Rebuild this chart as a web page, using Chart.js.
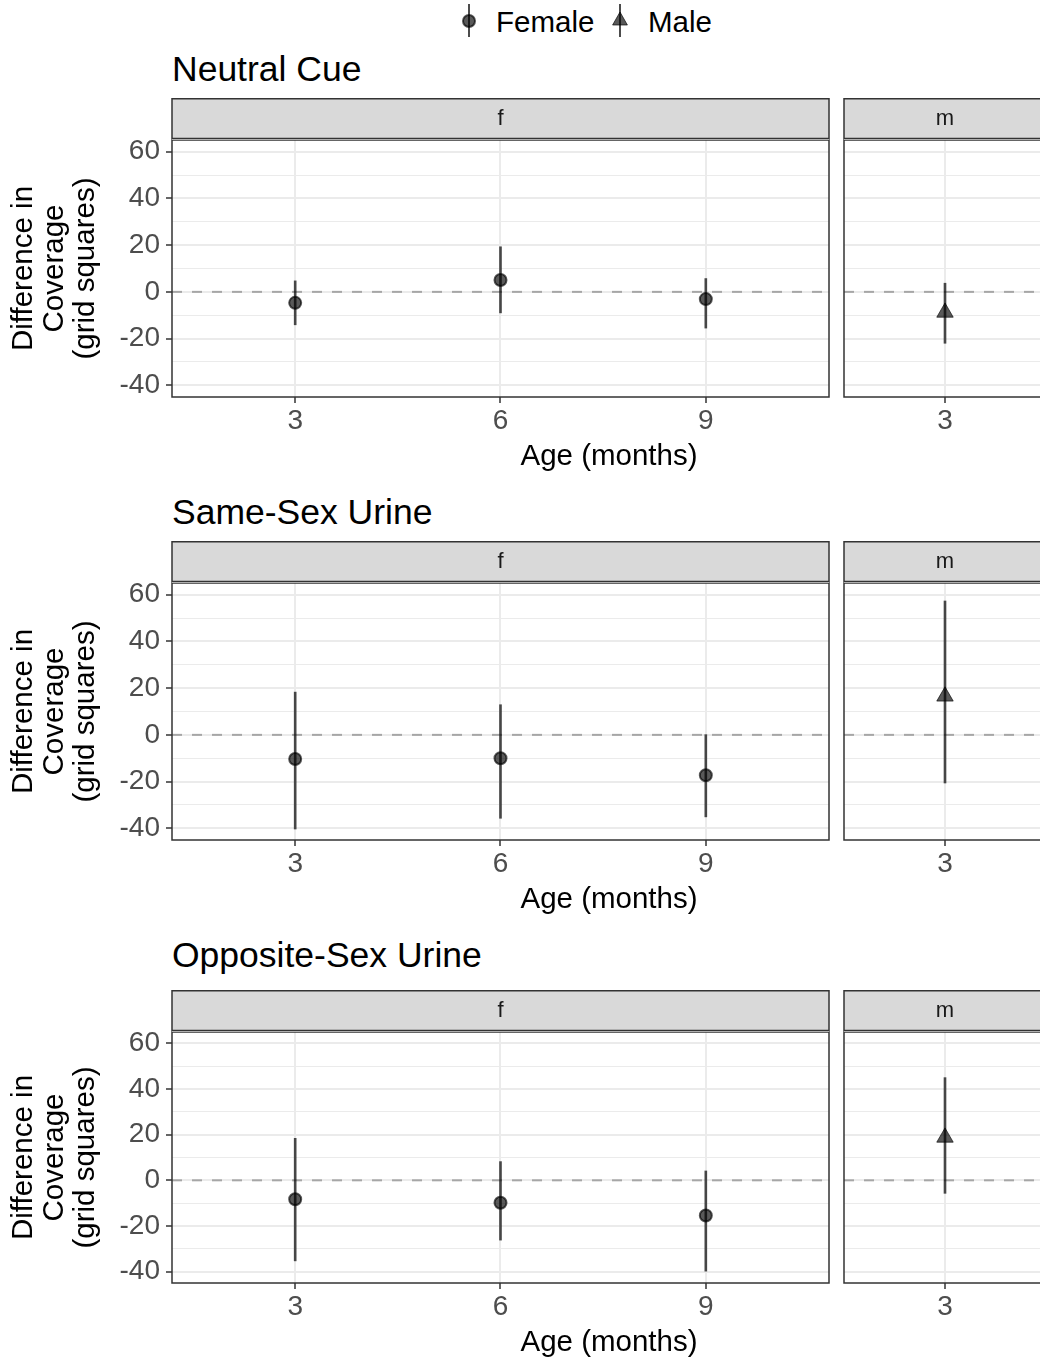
<!DOCTYPE html>
<html>
<head>
<meta charset="utf-8">
<script src="https://cdn.jsdelivr.net/npm/chart.js@4.4.1/dist/chart.umd.min.js"></script>
<style>
html, body { margin: 0; padding: 0; background: #fff; overflow: hidden; }
#fig { position: relative; width: 1040px; height: 1362px; overflow: hidden; font-family: "Liberation Sans", Arial, sans-serif; }
#fig canvas { position: absolute; }
.lbl { position: absolute; white-space: nowrap; line-height: 1; }
</style>
</head>
<body>
<div id="fig"></div>
<script>
Chart.defaults.font.family = '"Liberation Sans", Arial, sans-serif';
Chart.defaults.color = '#4d4d4d';

// cue panels, top to bottom
const cues = ['Neutral Cue', 'Same-Sex Urine', 'Opposite-Sex Urine'];

// females: ages 3, 6, 9 months
const ages = [3, 6, 9];
const femaleMean  = [[-4.7, 5.1, -3.1], [-10.3, -10.0, -17.3], [-8.3, -9.8, -15.4]];
const femaleLower = [[-14.1, -9.0, -15.5], [-40.3, -35.7, -35.1], [-35.3, -26.2, -39.8]];
const femaleUpper = [[4.7, 19.3, 5.7], [18.3, 12.9, 0.1], [18.4, 8.2, 4.1]];

// males: age 3 only
const maleAges = [3];
const maleMean  = [[-8.8], [16.5], [18.8]];
const maleLower = [[-22.0], [-20.6], [-5.7]];
const maleUpper = [[3.7], [57.3], [45.0]];

const yMajor = [-40, -20, 0, 20, 40, 60];
const yMinor = [-30, -10, 10, 30, 50];
const yLimits = [-45, 65];
const refValue = 0;
const yTitle = ['Difference in', 'Coverage', '(grid squares)'];

// page layout (px)
const plotTops = [140, 583, 1032];
const plotHeights = [257, 257, 251];
const titleBaselines = [81.7, 524.8, 968.5];
const stripH = 42, axisH = 45, yAxisW = 172;
const fRight = 829, mLeft = 844, mRight = 1046;
const tickSize = 28, axisTitleSize = 29.5;

const fig = document.getElementById('fig');

function addText(txt, x, baseline, size, center) {
    const d = document.createElement('div');
    d.className = 'lbl';
    d.textContent = txt;
    d.style.fontSize = size + 'px';
    d.style.top = (baseline - 0.8465 * size) + 'px';
    d.style.left = x + 'px';
    d.style.color = '#000';
    if (center) d.style.transform = 'translateX(-50%)';
    fig.appendChild(d);
}

// legend key: pointrange glyph
function legendKey(cx, shape) {
    const ns = 'http://www.w3.org/2000/svg';
    const svg = document.createElementNS(ns, 'svg');
    svg.setAttribute('width', 30);
    svg.setAttribute('height', 40);
    svg.style.position = 'absolute';
    svg.style.left = (cx - 15) + 'px';
    svg.style.top = '1px';
    const line = document.createElementNS(ns, 'line');
    line.setAttribute('x1', 15); line.setAttribute('x2', 15);
    line.setAttribute('y1', 3); line.setAttribute('y2', 36);
    line.setAttribute('stroke', 'rgba(0,0,0,0.7)');
    line.setAttribute('stroke-width', 2);
    svg.appendChild(line);
    let mark;
    if (shape === 'circle') {
        mark = document.createElementNS(ns, 'circle');
        mark.setAttribute('cx', 15); mark.setAttribute('cy', 20); mark.setAttribute('r', 6);
        mark.setAttribute('stroke-width', 2);
    } else {
        mark = document.createElementNS(ns, 'polygon');
        mark.setAttribute('points', '15,11 22.4,24 7.6,24');
        mark.setAttribute('stroke-width', 1);
    }
    mark.setAttribute('fill', 'rgba(0,0,0,0.65)');
    mark.setAttribute('stroke', 'rgba(0,0,0,0.65)');
    svg.appendChild(mark);
    fig.appendChild(svg);
}

legendKey(469, 'circle');
addText('Female', 496, 31.7, axisTitleSize);
legendKey(620, 'triangle');
addText('Male', 648, 31.7, axisTitleSize);

// panel border, facet strip and dashed reference line
const facetFrame = {
    id: 'facetFrame',
    beforeDatasetsDraw(chart) {
        const { ctx, chartArea: a, scales: { y } } = chart;
        const py = y.getPixelForValue(refValue);
        ctx.save();
        ctx.beginPath();
        ctx.rect(a.left, a.top, a.width, a.height);
        ctx.clip();
        ctx.strokeStyle = '#a6a6a6';
        ctx.lineWidth = 2;
        ctx.setLineDash([10, 10]);
        ctx.beginPath();
        ctx.moveTo(a.left, py);
        ctx.lineTo(a.right, py);
        ctx.stroke();
        ctx.restore();
    },
    afterDraw(chart, args, opts) {
        const { ctx, chartArea: a } = chart;
        ctx.save();
        ctx.strokeStyle = '#333333';
        ctx.lineWidth = 1.5;
        ctx.strokeRect(a.left, a.top, a.width, a.height);
        ctx.fillStyle = '#d9d9d9';
        ctx.fillRect(a.left, a.top - stripH, a.width, stripH);
        ctx.strokeRect(a.left, a.top - stripH + 0.75, a.width, stripH - 2.25);
        ctx.fillStyle = '#1a1a1a';
        ctx.font = '22px "Liberation Sans", Arial, sans-serif';
        ctx.textAlign = 'center';
        ctx.textBaseline = 'middle';
        ctx.fillText(opts.label, (a.left + a.right) / 2, a.top - stripH / 2);
        ctx.restore();
    }
};

const isMajor = c => !!c.tick && yMajor.includes(c.tick.value);

function buildPanel(row, facet) {
    const isF = facet === 'f';
    const plotTop = plotTops[row], plotH = plotHeights[row];
    const left = isF ? 0 : mLeft - 2;
    const width = isF ? fRight + 11 : (mRight - mLeft) + 4;
    const height = stripH + plotH + axisH;

    const canvas = document.createElement('canvas');
    canvas.width = width;
    canvas.height = height;
    canvas.style.left = left + 'px';
    canvas.style.top = (plotTop - stripH) + 'px';
    canvas.style.width = width + 'px';
    canvas.style.height = height + 'px';
    fig.appendChild(canvas);

    const xs = isF ? ages : maleAges;
    const mean = isF ? femaleMean[row] : maleMean[row];
    const lo = isF ? femaleLower[row] : maleLower[row];
    const hi = isF ? femaleUpper[row] : maleUpper[row];
    const xRange = isF ? [1.2, 10.8] : [1.5, 4.5];

    new Chart(canvas, {
        type: 'scatter',
        data: {
            datasets: [
                {
                    type: 'bar',
                    data: xs.map((x, i) => ({ x: x, y: [lo[i], hi[i]] })),
                    backgroundColor: 'rgba(0,0,0,0.7)',
                    barThickness: 2,
                    borderWidth: 0,
                    order: 2
                },
                {
                    type: 'scatter',
                    data: xs.map((x, i) => ({ x: x, y: mean[i] })),
                    pointStyle: isF ? 'circle' : 'triangle',
                    pointRadius: isF ? 6 : 9.5,
                    borderWidth: isF ? 2 : 1,
                    backgroundColor: 'rgba(0,0,0,0.65)',
                    borderColor: 'rgba(0,0,0,0.65)',
                    order: 1
                }
            ]
        },
        options: {
            responsive: false, animation: false, devicePixelRatio: 1,
            layout: { autoPadding: false, padding: { top: stripH, right: isF ? 11 : 2, left: 0, bottom: 0 } },
            plugins: {
                legend: { display: false },
                tooltip: { enabled: false },
                facetFrame: { label: facet }
            },
            scales: {
                x: {
                    type: 'linear', min: xRange[0], max: xRange[1], offset: false,
                    afterBuildTicks: s => { s.ticks = xs.map(v => ({ value: v })); },
                    afterFit: s => { s.height = axisH; s.paddingLeft = 0; s.paddingRight = 0; },
                    border: { display: false },
                    grid: { offset: false, color: '#ebebeb', lineWidth: 2, tickColor: '#333333', tickLength: 6, tickWidth: 1.5 },
                    ticks: { autoSkip: false, maxRotation: 0, padding: 1, font: { size: tickSize }, color: '#4d4d4d', callback: v => String(v) }
                },
                y: {
                    type: 'linear', min: yLimits[0], max: yLimits[1],
                    afterBuildTicks: s => { s.ticks = yMajor.concat(yMinor).sort((a, b) => a - b).map(v => ({ value: v })); },
                    afterFit: s => { s.width = isF ? yAxisW : 2; s.paddingTop = 0; s.paddingBottom = 0; },
                    border: { display: false },
                    grid: {
                        color: '#ebebeb',
                        lineWidth: c => isMajor(c) ? 2 : 1,
                        drawTicks: isF,
                        tickLength: 6,
                        tickWidth: 1.5,
                        tickColor: c => isMajor(c) ? '#333333' : 'rgba(0,0,0,0)'
                    },
                    ticks: {
                        display: isF, autoSkip: false, padding: 6, font: { size: tickSize }, color: '#4d4d4d',
                        callback: v => yMajor.includes(v) ? String(v) : ''
                    },
                    title: {
                        display: isF, text: yTitle, color: '#000',
                        font: { size: axisTitleSize, lineHeight: 1.05 }, padding: { top: 8, bottom: 0 }
                    }
                }
            }
        },
        plugins: [facetFrame]
    });
}

cues.forEach((cue, row) => {
    const plotBottom = plotTops[row] + plotHeights[row];
    addText(cue, 172, titleBaselines[row], 35.5);
    buildPanel(row, 'f');
    buildPanel(row, 'm');
    addText('Age (months)', (yAxisW + mRight) / 2, plotBottom + 68.3, axisTitleSize, true);
});
</script>
</body>
</html>
